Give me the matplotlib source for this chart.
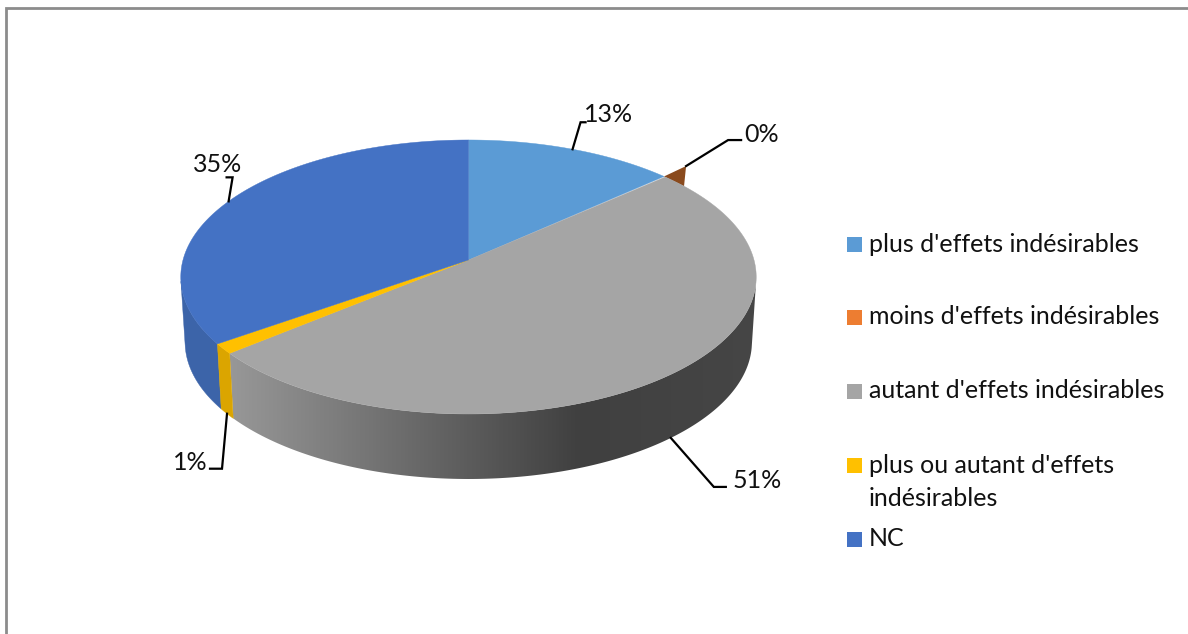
import numpy as np
import matplotlib
matplotlib.use("Agg")
import matplotlib.pyplot as plt
from matplotlib.patches import Polygon, Rectangle
from matplotlib.colors import LinearSegmentedColormap

categories = ["plus d'effets indésirables", "moins d'effets indésirables",
              "autant d'effets indésirables", "plus ou autant d'effets\nindésirables", "NC"]
values = [13.3, 0.1, 50.6, 1.2, 34.8]
value_labels = ["13%", "0%", "51%", "1%", "35%"]
top_colors = ["#5b9bd5", "#ed7d31", "#a5a5a5", "#ffc000", "#4472c4"]
wall_colors = ["#4a80b4", "#8a4a1d", "#808080", "#dba500", "#3c64a9"]
legend_y = [246, 319, 393, 465, 541]

W, H = 1188, 634
CX, CY, RX, HY, K, DEPTH, BF = 468.5, 260, 285.5, 134.9, 0.124, 65, 0.985
TEXT = "#111111"


def project(theta, r=1.0, bottom=False):
    t = np.radians(theta)
    u, v = r * np.sin(t), r * np.cos(t)
    s = 1 / (1 + K * v)
    x, y = CX + RX * u * s, CY - HY * v * s
    if bottom:
        x, y = CX + (x - CX) * BF, y + DEPTH
    return x, y


def front_facing(theta):
    eps = 0.01
    x0, y0 = project(theta)
    x1, y1 = project(theta + eps)
    xb, yb = project(theta, bottom=True)
    return (x1 - x0) * (yb - y0) - (y1 - y0) * (xb - x0) < 0


fig = plt.figure(figsize=(W / 100, H / 100), dpi=100)
ax = fig.add_axes([0, 0, 1, 1])
ax.set_xlim(0, W)
ax.set_ylim(H, 0)
ax.axis("off")
plt.rcParams["font.family"] = ["Lato", "DejaVu Sans"]

# chart frame
ax.plot([5.5, 5.5, W + 5], [H + 5, 7.5, 7.5], color="#8c8c8c", lw=2.0, solid_joinstyle="miter")

edges = np.concatenate([[0], np.cumsum(values)]) / np.sum(values) * 360

gray_cmap = LinearSegmentedColormap.from_list(
    "wall", [(0.0, "#9a9a9a"), (0.66, "#404040"), (1.0, "#464646")])

# outer walls: only the part that faces the viewer
for i in range(len(values)):
    if i == 1:
        continue
    th = np.linspace(edges[i], edges[i + 1], 1500)
    th = th[[bool(front_facing(a)) for a in th]]
    if len(th) < 2:
        continue
    top = [project(a) for a in th]
    bot = [project(a, bottom=True) for a in th[::-1]]
    if i == 2:
        poly = Polygon(top + bot, closed=True, facecolor="none", edgecolor="none", zorder=2)
        ax.add_patch(poly)
        im = ax.imshow(np.linspace(0, 1, 512)[None, :], cmap=gray_cmap, vmin=0, vmax=1,
                       extent=(220, 765, H, 0), aspect="auto", zorder=2, interpolation="bilinear")
        im.set_clip_path(poly)
    else:
        ax.add_patch(Polygon(top + bot, closed=True, facecolor=wall_colors[i],
                             edgecolor=wall_colors[i], lw=0.3, zorder=2.1 if i == 3 else 2))
ax.set_xlim(0, W)
ax.set_ylim(H, 0)

# top faces
for i in range(len(values)):
    if i == 1:
        continue
    th = np.linspace(edges[i], edges[i + 1], 200)
    pts = [(CX, CY)] + [project(a) for a in th]
    ax.add_patch(Polygon(pts, closed=True, facecolor=top_colors[i], edgecolor=top_colors[i],
                         lw=0.3, zorder=3))

# small sliver of the near-zero slice
a0 = edges[1]
sliver = [project(a0), project(a0 - 0.3, 1.13), project(a0 + 6.2)]
ax.add_patch(Polygon(sliver, closed=True, facecolor=wall_colors[1], edgecolor="none", zorder=2.5))

# leader lines and data labels
lab_font = 18.0
mids = (edges[:-1] + edges[1:]) / 2
anchors = [project(mids[0]), project(a0 - 0.3, 1.13), project(mids[2], bottom=True),
           project(mids[3], bottom=True), project(mids[4])]
elbows = [[(8, -27), (13, -27)], [(42, -26), (55, -26)], [(43, 49), (55, 49)],
          [(-5, 55), (-17, 55)], [(4, -24), (-2, -24)]]
text_pos = [(584, 115), (744, 135), (733, 481), (173, 462), (193, 165)]
for a, e, lab, tp in zip(anchors, elbows, value_labels, text_pos):
    xs = [a[0]] + [a[0] + d[0] for d in e]
    ys = [a[1]] + [a[1] + d[1] for d in e]
    ax.plot(xs, ys, color="black", lw=1.6, zorder=4, solid_joinstyle="miter")
    ax.text(tp[0], tp[1], lab, fontsize=lab_font, color=TEXT, ha="left", va="center", zorder=5)

# legend
swatch_y = [244, 317, 391, 465, 539]
for name, col, y, sy in zip(categories, top_colors, legend_y, swatch_y):
    ax.add_patch(Rectangle((847, sy - 7.5), 15, 15, facecolor=col, edgecolor="none", zorder=5))
    if "\n" in name:
        ax.text(869, y - 11, name, fontsize=lab_font, color=TEXT, ha="left", va="top",
                linespacing=1.55, zorder=5)
    else:
        ax.text(869, y - 2, name, fontsize=lab_font, color=TEXT, ha="left", va="center", zorder=5)

fig.savefig("out.png", dpi=100)
